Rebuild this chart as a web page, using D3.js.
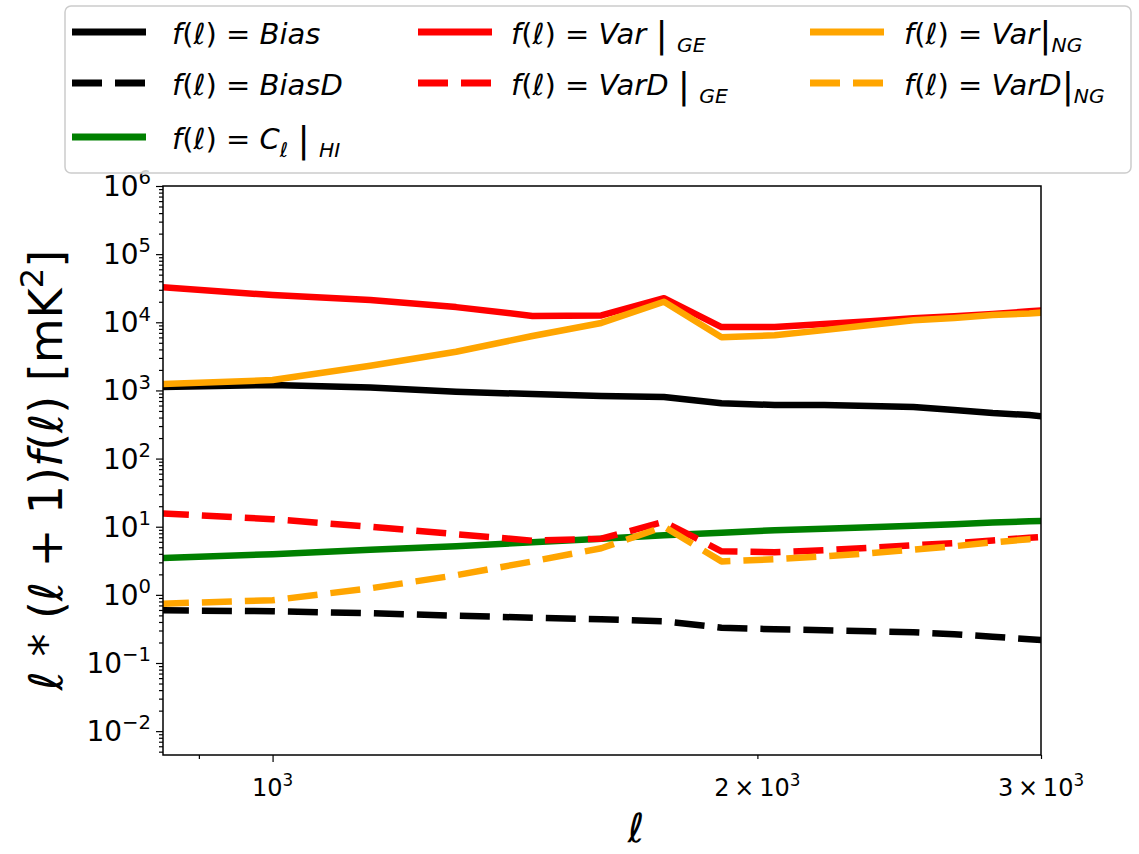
<!DOCTYPE html>
<html>
<head>
<meta charset="utf-8">
<script src="https://cdn.jsdelivr.net/npm/d3@7"></script>
<style>
  body { margin: 0; background: #fff; }
  text { font-family: "DejaVu Sans", sans-serif; fill: #000; }
</style>
</head>
<body>
<svg id="chart" width="1139" height="854"></svg>
<script>
// multipole bins
const ells = [850, 1000, 1150, 1300, 1450, 1600, 1750, 1900, 2050, 2200, 2350, 2500, 2650, 2800, 2950, 3100];

// l(l+1) f(l) values in mK^2
const bias   = [1120, 1200, 1100, 955, 883, 830, 800, 650, 610, 610, 590, 570, 515, 465, 435, 390];
const biasD  = [0.594, 0.575, 0.537, 0.494, 0.462, 0.438, 0.41, 0.329, 0.313, 0.302, 0.292, 0.282, 0.264, 0.243, 0.223, 0.209];
const clHI   = [3.45, 3.95, 4.59, 5.17, 5.9, 6.66, 7.5, 8.17, 8.88, 9.34, 9.84, 10.35, 10.9, 11.5, 12.0, 12.4];
const varGE  = [32900, 25100, 21200, 16700, 12400, 12600, 22600, 8510, 8510, 9420, 10400, 11500, 12300, 13200, 14500, 15500];
const varDGE = [15.8, 12.9, 10.0, 7.76, 6.24, 6.67, 11.8, 4.36, 4.22, 4.52, 4.92, 5.35, 5.72, 6.3, 6.9, 7.37];
const varNG  = [1240, 1420, 2300, 3690, 6300, 9780, 20000, 6050, 6440, 7670, 9100, 10700, 11600, 12800, 13500, 14600];
const varDNG = [0.74, 0.834, 1.25, 1.94, 3.1, 4.83, 10.0, 3.1, 3.33, 3.69, 4.08, 4.6, 5.17, 5.9, 6.56, 7.1];

const yMajor = [-2, -1, 0, 1, 2, 3, 4, 5, 6];
const xTicks = [
  { v: 1000, lab: [['10', 'n'], ['3', 'sup']] },
  { v: 2000, lab: [['2\u2009\u00d7\u200910', 'n'], ['3', 'sup']] },
  { v: 3000, lab: [['3\u2009\u00d7\u200910', 'n'], ['3', 'sup']] }
];
const xMinor = [900];

// segment styles: n normal, i italic, sub italic subscript, sup superscript, bar tall bar
const series = [
  { vals: bias,   color: '#000000', dash: null, col: 0, row: 0,
    label: [['f', 'i'], ['(', 'n'], ['\u2113', 'i'], [')', 'n'], [' = ', 'n'], ['Bias', 'i']] },
  { vals: biasD,  color: '#000000', dash: '30,13', col: 0, row: 1,
    label: [['f', 'i'], ['(', 'n'], ['\u2113', 'i'], [')', 'n'], [' = ', 'n'], ['BiasD', 'i']] },
  { vals: clHI,   color: '#008000', dash: null, col: 0, row: 2,
    label: [['f', 'i'], ['(', 'n'], ['\u2113', 'i'], [')', 'n'], [' = ', 'n'], ['C', 'i'], ['\u2113', 'sub'], [' ', 'n'], ['|', 'bar'], [' ', 'n'], ['HI', 'sub']] },
  { vals: varGE,  color: '#ff0000', dash: null, col: 1, row: 0,
    label: [['f', 'i'], ['(', 'n'], ['\u2113', 'i'], [')', 'n'], [' = ', 'n'], ['Var', 'i'], [' ', 'n'], ['|', 'bar'], [' ', 'n'], ['GE', 'sub']] },
  { vals: varDGE, color: '#ff0000', dash: '30,13', col: 1, row: 1,
    label: [['f', 'i'], ['(', 'n'], ['\u2113', 'i'], [')', 'n'], [' = ', 'n'], ['VarD', 'i'], [' ', 'n'], ['|', 'bar'], [' ', 'n'], ['GE', 'sub']] },
  { vals: varNG,  color: '#ffa500', dash: null, col: 2, row: 0,
    label: [['f', 'i'], ['(', 'n'], ['\u2113', 'i'], [')', 'n'], [' = ', 'n'], ['Var', 'i'], ['|', 'bar'], ['NG', 'sub']] },
  { vals: varDNG, color: '#ffa500', dash: '30,13', col: 2, row: 1,
    label: [['f', 'i'], ['(', 'n'], ['\u2113', 'i'], [')', 'n'], [' = ', 'n'], ['VarD', 'i'], ['|', 'bar'], ['NG', 'sub']] }
];

const svg = d3.select('#chart');
const plot = { left: 163, right: 1041, top: 186, bottom: 755 };

const x = d3.scaleLog().domain([855, 3000]).range([plot.left, plot.right]);
const y = d3.scaleLog().domain([Math.pow(10, -2.35), 1e6]).range([plot.bottom, plot.top]);

// write a mathtext-like label into a <text> with tspans
function mathText(sel, segs, size) {
  let shift = 0;
  segs.forEach(([str, st]) => {
    const t = sel.append('tspan').text(str);
    let dy = 0, fs = size;
    if (st === 'i' || st === 'sub') t.attr('font-style', 'italic');
    if (st === 'sub') { fs = size * 0.7; dy = size * 0.28; }
    if (st === 'sup') { fs = size * 0.7; dy = -size * 0.42; }
    if (st === 'bar') { fs = size * 1.25; dy = size * 0.12; }
    t.attr('font-size', fs).attr('dy', dy - shift);
    shift = dy;
  });
}

svg.append('defs').append('clipPath').attr('id', 'clip')
  .append('rect')
  .attr('x', plot.left).attr('y', plot.top)
  .attr('width', plot.right - plot.left).attr('height', plot.bottom - plot.top);

// lines
const line = d3.line().x(d => x(d[0])).y(d => y(d[1]));
const lines = svg.append('g').attr('clip-path', 'url(#clip)');
series.forEach(s => {
  lines.append('path')
    .datum(ells.map((l, i) => [l, s.vals[i]]))
    .attr('d', line)
    .attr('fill', 'none')
    .attr('stroke', s.color)
    .attr('stroke-width', 6.5)
    .attr('stroke-linejoin', 'round')
    .attr('stroke-dasharray', s.dash);
});

// y axis ticks
const yMinor = [];
for (let e = -3; e < 6; e++) for (let k = 2; k <= 9; k++) {
  const v = k * Math.pow(10, e);
  if (v >= y.domain()[0] && v <= 1e6) yMinor.push(v);
}
svg.append('g').attr('transform', `translate(${plot.left},0)`)
  .call(d3.axisLeft(y).tickValues(yMajor.map(e => Math.pow(10, e))).tickSize(7).tickFormat(''));
svg.append('g').attr('transform', `translate(${plot.left},0)`)
  .call(d3.axisLeft(y).tickValues(yMinor).tickSize(4).tickFormat(''));

yMajor.forEach(e => {
  const t = svg.append('text')
    .attr('x', 151).attr('y', y(Math.pow(10, e)) + 10)
    .attr('text-anchor', 'end');
  mathText(t, [['10', 'n'], [e < 0 ? '\u2212' + (-e) : String(e), 'sup']], 28);
});

// x axis ticks
svg.append('g').attr('transform', `translate(0,${plot.bottom})`)
  .call(d3.axisBottom(x).tickValues([1000]).tickSize(7).tickFormat(''));
svg.append('g').attr('transform', `translate(0,${plot.bottom})`)
  .call(d3.axisBottom(x).tickValues(xMinor.concat([2000, 3000])).tickSize(4).tickFormat(''));
svg.selectAll('.domain').remove();
svg.selectAll('.tick line').attr('stroke', '#000').attr('stroke-width', 1.2);

xTicks.forEach(tk => {
  const t = svg.append('text')
    .attr('x', x(tk.v)).attr('y', 796)
    .attr('text-anchor', 'middle');
  mathText(t, tk.lab, 24);
});

// frame
svg.append('rect')
  .attr('x', plot.left).attr('y', plot.top)
  .attr('width', plot.right - plot.left).attr('height', plot.bottom - plot.top)
  .attr('fill', 'none').attr('stroke', '#000').attr('stroke-width', 1.5);

// axis labels
const xl = svg.append('text').attr('x', 636).attr('y', 842).attr('text-anchor', 'middle');
mathText(xl, [['\u2113', 'i']], 40);

const yl = svg.append('text')
  .attr('transform', 'translate(62,470) rotate(-90)')
  .attr('text-anchor', 'middle');
mathText(yl, [['\u2113', 'i'], [' * (', 'n'], ['\u2113', 'i'], [' + 1)', 'n'],
  ['f', 'i'], ['(', 'n'], ['\u2113', 'i'], [') [mK', 'n'], ['2', 'sup'], [']', 'n']], 46);

// legend
const leg = svg.append('g');
leg.append('rect')
  .attr('x', 65).attr('y', 6).attr('width', 1066).attr('height', 167)
  .attr('rx', 6)
  .attr('fill', '#fff').attr('fill-opacity', 0.8)
  .attr('stroke', '#cccccc').attr('stroke-width', 1.5);

const colHandle = [72, 418, 810];
const colText = [172, 511, 904];
const rowY = [32, 83, 137];
series.forEach(s => {
  const cy = rowY[s.row];
  leg.append('line')
    .attr('x1', colHandle[s.col]).attr('x2', colHandle[s.col] + 74)
    .attr('y1', cy).attr('y2', cy)
    .attr('stroke', s.color).attr('stroke-width', 7)
    .attr('stroke-dasharray', s.dash);
  const t = leg.append('text').attr('x', colText[s.col]).attr('y', cy + 12);
  mathText(t, s.label, 29);
});
</script>
</body>
</html>
